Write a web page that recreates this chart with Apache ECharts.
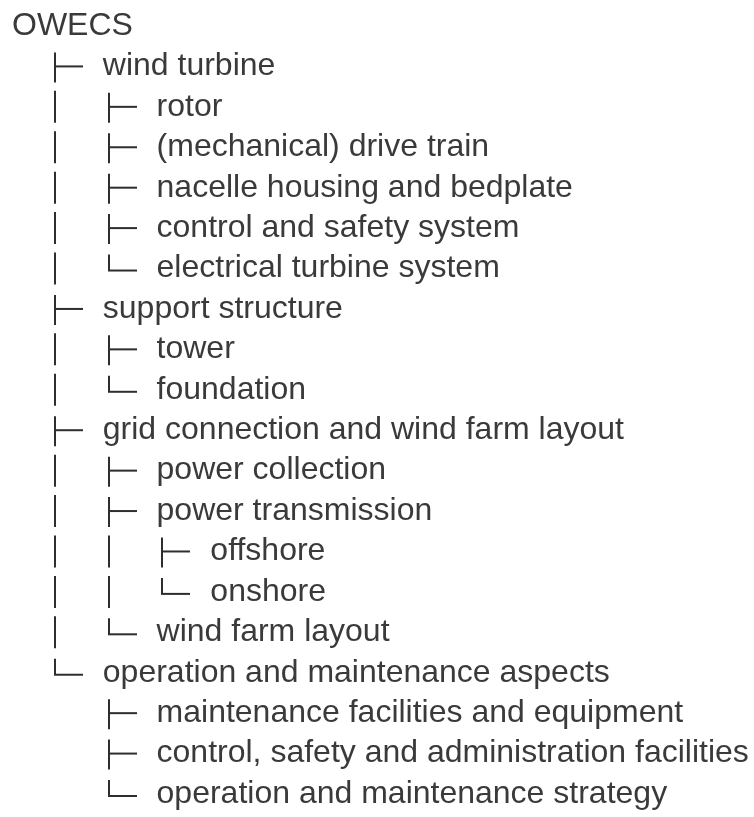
<!DOCTYPE html>
<html>
<head>
<meta charset="utf-8">
<title>OWECS</title>
<script src="https://cdn.jsdelivr.net/npm/echarts@6/dist/echarts.min.js"></script>
<style>
  html, body { margin: 0; padding: 0; background: #fff; }
  #chart { width: 754px; height: 817px; }
</style>
</head>
<body>
<div id="chart"></div>
<script>
// tree rows, top to bottom
const labels = [
  'OWECS',
  'wind turbine',
  'rotor',
  '(mechanical) drive train',
  'nacelle housing and bedplate',
  'control and safety system',
  'electrical turbine system',
  'support structure',
  'tower',
  'foundation',
  'grid connection and wind farm layout',
  'power collection',
  'power transmission',
  'offshore',
  'onshore',
  'wind farm layout',
  'operation and maintenance aspects',
  'maintenance facilities and equipment',
  'control, safety and administration facilities',
  'operation and maintenance strategy'
];
const depths = [0, 1, 2, 2, 2, 2, 2, 1, 2, 2, 1, 2, 2, 3, 3, 2, 1, 2, 2, 2];

// next row after i whose depth is <= k (or -1)
const nextAtOrAbove = (i, k) => {
  for (let m = i + 1; m < depths.length; m++) {
    if (depths[m] <= k) return m;
  }
  return -1;
};

const rows = labels.map((name, i) => {
  const d = depths[i];
  const n = nextAtOrAbove(i, d);
  const pipes = [];
  for (let k = 1; k < d; k++) {
    const m = nextAtOrAbove(i, k);
    if (m >= 0 && depths[m] === k) pipes.push(k);
  }
  return { value: [d, i], name, last: n < 0 || depths[n] < d, pipes };
});

const chart = echarts.init(document.getElementById('chart'));
const ink = '#2e2e2e';
const lineStyle = { stroke: ink, lineWidth: 2 };

const seg = (x1, y1, x2, y2) => ({
  type: 'line',
  shape: { x1, y1, x2, y2 },
  style: lineStyle
});

const renderItem = (params, api) => {
  const row = rows[params.dataIndex];
  const d = api.value(0);
  const r = api.value(1);
  const p = api.coord([d, r]);
  const b = p[1]; // baseline
  const children = [];

  row.pipes.forEach((k) => {
    const x = Math.round(api.coord([k, r])[0]);
    children.push(seg(x, b - 24, x, b + 8));
  });

  let tx = p[0] + 11;
  if (d > 0) {
    const x = Math.round(p[0]);
    if (row.last) {
      children.push(seg(x, b - 22, x, b - 6));
      children.push(seg(x - 1, b - 6, x + 28, b - 6));
    } else {
      children.push(seg(x, b - 22, x, b + 8));
      children.push(seg(x, b - 8, x + 28, b - 8));
    }
    tx = p[0] + 48;
  }

  children.push({
    type: 'text',
    x: tx,
    y: b + 8,
    style: {
      text: row.name,
      fill: '#3a3a3a',
      font: '32px "Liberation Sans", Arial, sans-serif',
      verticalAlign: 'bottom',
      align: 'left'
    }
  });

  return { type: 'group', children };
};

const option = {
  animation: false,
  backgroundColor: '#fff',
  grid: { left: 1, top: 34, width: 756, bottom: 15 },
  xAxis: { type: 'value', min: 0, max: 14, show: false },
  yAxis: { type: 'value', min: 0, max: labels.length - 1, inverse: true, show: false },
  series: [
    {
      type: 'custom',
      clip: false,
      renderItem,
      data: rows.map((r) => r.value)
    }
  ]
};

chart.setOption(option);

window.addEventListener('resize', () => {
  chart.resize();
});
</script>
</body>
</html>
